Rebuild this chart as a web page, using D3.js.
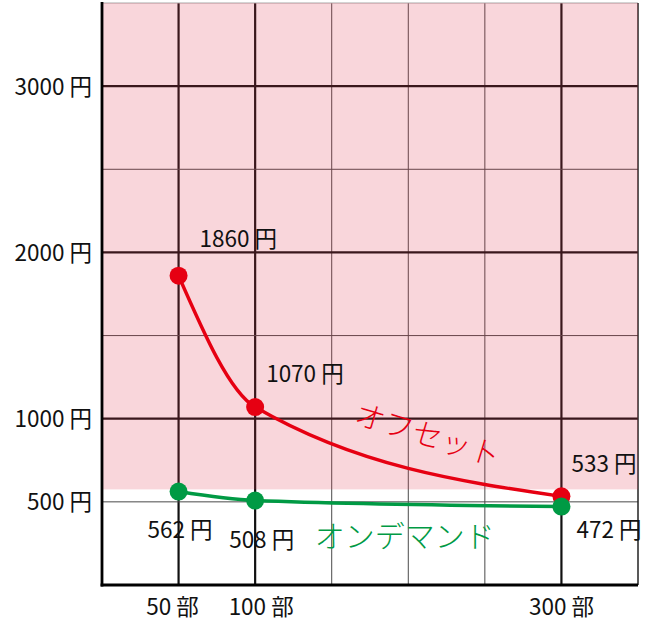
<!DOCTYPE html>
<html>
<head>
<meta charset="utf-8">
<script src="https://cdn.jsdelivr.net/npm/d3@7"></script>
<style>
  html, body { margin: 0; padding: 0; background: #fff; }
  svg { display: block; font-family: "Noto Sans CJK JP", "Noto Sans", sans-serif; }
</style>
</head>
<body>
<svg id="chart" width="654" height="622"></svg>
<script>
// Print run sizes (copies) and unit price per copy (yen)
const copies = [50, 100, 300];
const offsetPrices = [1860, 1070, 533];
const onDemandPrices = [562, 508, 472];
const seriesNames = ["オフセット", "オンデマンド"];
const yTickValues = [500, 1000, 2000, 3000];
const yTickLabels = ["500 円", "1000 円", "2000 円", "3000 円"];
const xTickLabels = ["50 部", "100 部", "300 部"];
// Price level below which the offset zone shading stops
const offsetZoneFloor = 575;

(function () {
const svg = d3.select("#chart");
const plotLeft = 102, plotRight = 638, plotTop = 3, plotBottom = 585;
const labelSize = 22.5;

const x = d3.scaleLinear().domain([0, 350]).range([plotLeft, plotRight]);
const y = d3.scaleLinear().domain([0, 3500]).range([plotBottom, plotTop]);

const RED = "#e60012";
const GREEN = "#009a44";

// Grid: every 50 copies and every 500 yen; major lines at the run sizes and whole thousands
const grid = svg.append("g");
d3.range(50, 350, 50).forEach(v => {
  const major = copies.includes(v);
  grid.append("line")
    .attr("x1", x(v)).attr("x2", x(v)).attr("y1", plotTop).attr("y2", plotBottom)
    .attr("stroke", major ? "#111" : "#4a4a4a")
    .attr("stroke-width", major ? 2.2 : 1);
});
d3.range(500, 3500, 500).forEach(v => {
  const major = v % 1000 === 0;
  grid.append("line")
    .attr("x1", plotLeft).attr("x2", plotRight).attr("y1", y(v)).attr("y2", y(v))
    .attr("stroke", major ? "#111" : "#4a4a4a")
    .attr("stroke-width", major ? 2.2 : 1);
});
// frame: top and right edges
grid.append("line").attr("x1", plotLeft).attr("x2", plotRight).attr("y1", y(3500)).attr("y2", y(3500))
  .attr("stroke", "#aaa").attr("stroke-width", 1.2);
grid.append("line").attr("x1", x(350)).attr("x2", x(350)).attr("y1", plotTop).attr("y2", plotBottom)
  .attr("stroke", "#222").attr("stroke-width", 1.5);

// Offset zone shading laid over the grid
svg.append("rect")
  .attr("x", x(0)).attr("y", y(3500))
  .attr("width", x(350) - x(0))
  .attr("height", y(offsetZoneFloor) - y(3500))
  .attr("fill", "rgb(225,50,75)").attr("fill-opacity", 0.2);

// Axes (left and bottom), drawn as plain heavy lines
svg.append("line").attr("x1", x(0)).attr("x2", x(0)).attr("y1", plotTop - 1).attr("y2", plotBottom + 1.5)
  .attr("stroke", "#000").attr("stroke-width", 2.8);
svg.append("line").attr("x1", x(0) - 1.4).attr("x2", x(350)).attr("y1", y(0)).attr("y2", y(0))
  .attr("stroke", "#000").attr("stroke-width", 2.8);

// Y tick labels
svg.append("g").selectAll("text").data(yTickValues).join("text")
  .attr("x", x(0) - 10)
  .attr("y", d => y(d) + 8.5)
  .attr("text-anchor", "end")
  .attr("font-size", labelSize)
  .attr("fill", "#111")
  .text((d, i) => yTickLabels[i]);

// X tick labels
const xLabelShift = [-6, 6, 0];
svg.append("g").selectAll("text").data(copies).join("text")
  .attr("x", (d, i) => x(d) + xLabelShift[i])
  .attr("y", 615)
  .attr("text-anchor", "middle")
  .attr("font-size", labelSize)
  .attr("fill", "#111")
  .text((d, i) => xTickLabels[i]);

// Price curves
const line = d3.line()
  .x(d => x(d[0]))
  .y(d => y(d[1]))
  .curve(d3.curveMonotoneX);

function drawSeries(values, color, labelOffsets) {
  const pts = copies.map((c, i) => [c, values[i]]);
  svg.append("path")
    .attr("d", line(pts))
    .attr("fill", "none")
    .attr("stroke", color)
    .attr("stroke-width", 3.4);
  svg.append("g").selectAll("circle").data(pts).join("circle")
    .attr("cx", d => x(d[0]))
    .attr("cy", d => y(d[1]))
    .attr("r", 9)
    .attr("fill", color);
  svg.append("g").selectAll("text").data(pts).join("text")
    .attr("x", (d, i) => x(d[0]) + labelOffsets[i][0])
    .attr("y", (d, i) => y(d[1]) + labelOffsets[i][1])
    .attr("font-size", labelSize)
    .attr("fill", "#111")
    .text(d => d[1] + " 円");
}

drawSeries(offsetPrices, RED, [[21, -29], [11, -25], [10, -24]]);
drawSeries(onDemandPrices, GREEN, [[-31, 46], [-26, 47], [15, 31]]);

// Series names
svg.append("text")
  .attr("transform", `translate(${x(213)},${y(915)}) rotate(17)`)
  .attr("text-anchor", "middle")
  .attr("dominant-baseline", "central")
  .attr("font-size", 30)
  .attr("font-weight", 300)
  .attr("fill", RED)
  .text(seriesNames[0]);

svg.append("text")
  .attr("x", x(139))
  .attr("y", y(230))
  .attr("font-size", 30)
  .attr("font-weight", 300)
  .attr("fill", GREEN)
  .text(seriesNames[1]);
})();
</script>
</body>
</html>
